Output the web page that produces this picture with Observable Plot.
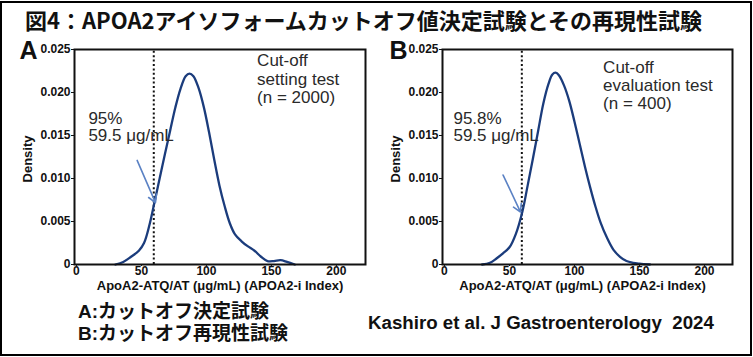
<!DOCTYPE html>
<html>
<head>
<meta charset="utf-8">
<script src="https://cdn.jsdelivr.net/npm/d3@7"></script>
<script src="https://cdn.jsdelivr.net/npm/@observablehq/plot@0.6"></script>
<style>
  html, body { margin: 0; padding: 0; background: #fff; }
  #page { position: relative; width: 753px; height: 357px; overflow: hidden; background: #fff; }
  #border { position: absolute; left: 0; top: 1px; width: 752px; height: 355px; box-sizing: border-box; border: 2px solid #000; }
  #title { position: absolute; left: 25px; top: 8px; font: bold 22px/22px "Noto Sans CJK JP", sans-serif; color: #111; white-space: nowrap; }
  .panel { position: absolute; top: 35px; }
  #panelA { left: 0; }
  #panelB { left: 370px; }
  .panel svg { overflow: visible; }
  .leg { position: absolute; left: 78px; height: 22px; font: bold 19px/22px "Liberation Sans", "Noto Sans CJK JP", sans-serif; color: #111; white-space: nowrap; }
  #cite { position: absolute; left: 368px; top: 312px; font: bold 18.7px/22px "Liberation Sans", Arial, sans-serif; color: #111; white-space: pre; }
</style>
</head>
<body>
<div id="page">
  <div id="border"></div>
  <div id="title"></div>
  <div id="panelA" class="panel"></div>
  <div id="panelB" class="panel"></div>
  <div id="legend"></div>
  <div id="cite"></div>
</div>
<script>
// ---- data ----
const titleText = "図4：APOA2アイソフォームカットオフ値決定試験とその再現性試験";
const legendLines = ["A:カットオフ決定試験", "B:カットオフ再現性試験"];
const citation = "Kashiro et al. J Gastroenterology  2024";
const xLabel = "ApoA2-ATQ/AT (μg/mL) (APOA2-i Index)";
const yLabel = "Density";
const xTicks = [0, 50, 100, 150, 200];
const yTicks = [0, 0.005, 0.010, 0.015, 0.020, 0.025];
const cutoff = 59.5;

// Panel A: cut-off setting test (n = 2000)
const settingX = [30, 36, 42, 48, 52, 56, 60, 64, 68, 72, 76, 80, 84, 87, 90, 94, 98, 102, 106, 110, 114, 118, 122, 127, 132, 137, 142, 147, 152, 157, 162, 168];
const settingDensity = [0, 0.0003, 0.0009, 0.0016, 0.0025, 0.0045, 0.0072, 0.0100, 0.0128, 0.0155, 0.0182, 0.0204, 0.0219, 0.0222, 0.0219, 0.0205, 0.0183, 0.0154, 0.0122, 0.0092, 0.0068, 0.0048, 0.0035, 0.0027, 0.0021, 0.0016, 0.0009, 0.0004, 0.0004, 0.0005, 0.0003, 0];
// Panel B: cut-off evaluation test (n = 400)
const evalX = [29, 35, 40, 45, 50, 55, 60, 64, 68, 72, 76, 80, 83, 85.5, 88, 92, 96, 100, 104, 108, 112, 116, 120, 125, 130, 135, 140, 145, 150, 158];
const evalDensity = [0, 0.0002, 0.0007, 0.0013, 0.0020, 0.0036, 0.0062, 0.0092, 0.0123, 0.0155, 0.0187, 0.0210, 0.0221, 0.0223, 0.0220, 0.0208, 0.0190, 0.0166, 0.0140, 0.0114, 0.0090, 0.0068, 0.0049, 0.0031, 0.0017, 0.0009, 0.0004, 0.0002, 0.0001, 0];

const panels = [
  {id: "panelA", letter: "A", width: 370, marginLeft: 74, marginRight: 5, xDomain: [-1.5, 222.4],
   xs: settingX, ys: settingDensity, pct: "95%", testLines: ["Cut-off", "setting test", "(n = 2000)"],
   pctX: 9.2, testX: 139, testY: 0.0216, arrow: [46.7, 0.0121, 60.8, 0.0072], letterDx: -55, labelDx: 0},
  {id: "panelB", letter: "B", width: 383, marginLeft: 72, marginRight: 21, xDomain: [-1.5, 221.5],
   xs: evalX, ys: evalDensity, pct: "95.8%", testLines: ["Cut-off", "evaluation test", "(n = 400)"],
   pctX: 6.9, testX: 122, testY: 0.0208, arrow: [45.1, 0.0104, 58.5, 0.0061], letterDx: -53, labelDx: -5}
];

document.getElementById("title").textContent = titleText;
const legend = document.getElementById("legend");
legendLines.forEach((s, i) => {
  const d = document.createElement("div");
  d.className = "leg";
  d.style.top = (301 + 22 * i) + "px";
  d.textContent = s;
  legend.appendChild(d);
});
document.getElementById("cite").textContent = citation;

const font = '"Liberation Sans", Arial, sans-serif';

for (const p of panels) {
  const curve = p.xs.map((x, i) => ({x, d: p.ys[i]}));
  const chart = Plot.plot({
    width: p.width,
    height: 260,
    marginLeft: p.marginLeft,
    marginRight: p.marginRight,
    marginTop: 14,
    marginBottom: 31,
    style: {fontFamily: font, fontSize: "12px", fontWeight: "bold", color: "#111", background: "transparent", overflow: "visible"},
    x: {domain: p.xDomain, ticks: xTicks, tickSize: 2, tickPadding: 0, label: null, tickFormat: d => String(d)},
    y: {domain: [0, 0.025], ticks: yTicks, tickSize: 3, tickPadding: 1, label: null,
        tickFormat: d => d === 0 ? "0" : d.toFixed(3)},
    marks: [
      Plot.ruleX([cutoff], {y1: 0, y2: 0.025, stroke: "#111", strokeWidth: 2, strokeDasharray: "2,2.4"}),
      Plot.line(curve, {x: "x", y: "d", stroke: "#1b3c7c", strokeWidth: 2.3, curve: "catmull-rom"}),
      Plot.arrow([p.arrow], {x1: d => d[0], y1: d => d[1], x2: d => d[2], y2: d => d[3],
        stroke: "#5b82c4", strokeWidth: 1.6, headLength: 8, bend: 0}),
      Plot.text([p.pct + "\n59.5 μg/mL"], {x: p.pctX, y: 0.0160, textAnchor: "start", lineAnchor: "middle",
        lineHeight: 1.02, fontSize: 17, fontWeight: "normal", fill: "#2a2a2a"}),
      Plot.text([p.testLines.join("\n")], {x: p.testX, y: p.testY, textAnchor: "start", lineAnchor: "middle",
        lineHeight: 1.06, fontSize: 17, fontWeight: "normal", fill: "#2a2a2a"}),
      Plot.frame({stroke: "#111", strokeWidth: 2}),
      Plot.text([p.letter], {frameAnchor: "top-left", dx: p.letterDx, dy: 9, textAnchor: "start", lineAnchor: "bottom",
        fontSize: 25, fontWeight: "bold", fill: "#111"}),
      Plot.text([yLabel], {frameAnchor: "left", dx: -47, dy: 2, rotate: -90, textAnchor: "middle", lineAnchor: "middle",
        fontSize: 13, fontWeight: "bold", fill: "#111"}),
      Plot.text([xLabel], {frameAnchor: "bottom", dx: p.labelDx, dy: 21, textAnchor: "middle", lineAnchor: "middle",
        fontSize: 13, fontWeight: "bold", fill: "#111"})
    ]
  });
  document.getElementById(p.id).appendChild(chart);
}
</script>
</body>
</html>
